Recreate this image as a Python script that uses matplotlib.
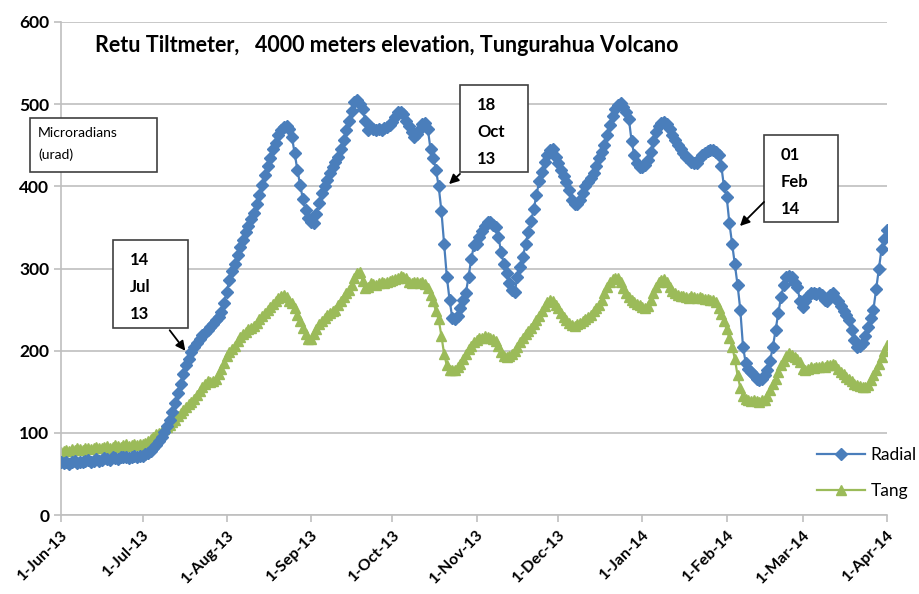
import matplotlib
matplotlib.use("Agg")
import matplotlib.pyplot as plt
import matplotlib.dates as mdates
from matplotlib.patches import Rectangle
import numpy as np
import pandas as pd

plt.rcParams['font.family'] = ['Lato', 'DejaVu Sans']

start_date = "2013-06-01"
end_date = "2014-04-01"

radial = [
    # June
    65, 63, 64, 62, 64, 66, 63, 65, 64, 66, 67, 65, 66, 68, 66, 67, 69, 68, 67, 70,
    69, 68, 70, 71, 70, 69, 71, 72, 71, 72,
    # July
    72, 74, 75, 78, 81, 85, 90, 95, 101, 108, 116, 125, 136, 148, 160, 172, 182, 190, 198, 204,
    209, 214, 219, 222, 225, 229, 233, 237, 241, 247, 258,
    # August
    272, 286, 297, 306, 316, 326, 335, 344, 352, 360, 368, 378, 390, 402, 414, 425, 435, 445, 453, 462,
    468, 472, 473, 470, 460, 440, 420, 402, 385, 371, 362,
    # September
    357, 355, 366, 380, 392, 400, 408, 416, 424, 430, 436, 445, 456, 468, 480, 492, 503, 505, 500, 494,
    480, 469, 472, 470, 468, 470, 468, 471, 472, 475,
    # October
    478, 484, 490, 491, 488, 480, 474, 466, 460, 464, 470, 476, 477, 470, 445, 435, 420, 400, 370, 330,
    290, 262, 240, 238, 242, 252, 262, 270, 290, 312, 328,
    # November
    330, 338, 346, 352, 357, 356, 353, 350, 338, 320, 305, 294, 282, 274, 272, 290, 302, 314, 330, 345,
    358, 372, 390, 406, 418, 430, 438, 444, 445, 436,
    # December
    428, 420, 412, 405, 395, 383, 378, 379, 383, 392, 400, 405, 410, 416, 425, 435, 442, 450, 462, 475,
    485, 494, 499, 501, 497, 490, 482, 455, 438, 428, 424,
    # January
    423, 426, 432, 442, 455, 466, 473, 477, 478, 476, 470, 463, 456, 450, 445, 440, 436, 433, 430, 428,
    429, 434, 438, 441, 443, 444, 444, 442, 438, 425, 400,
    # February
    387, 355, 330, 305, 280, 250, 205, 185, 178, 174, 170, 166, 164, 166, 170, 176, 188, 205, 225, 246,
    265, 280, 290, 291, 290, 282, 278, 260,
    # March
    253, 260, 266, 270, 270, 269, 270, 268, 262, 260, 268, 270, 264, 260, 254, 248, 243, 237, 225, 213,
    205, 206, 209, 218, 229, 240, 250, 275, 300, 324, 336,
    # 1 April
    347,
]

tang = [
    # June
    77, 78, 79, 78, 80, 79, 81, 80, 79, 81, 82, 80, 81, 83, 82, 81, 83, 84, 82, 83,
    85, 84, 83, 85, 86, 84, 85, 86, 85, 87,
    # July
    87, 88, 90, 92, 95, 98, 100, 102, 105, 107, 110, 113, 116, 120, 124, 128, 132, 135, 138, 141,
    146, 151, 156, 160, 163, 162, 163, 166, 172, 178, 185,
    # August
    193, 198, 202, 206, 212, 217, 220, 223, 226, 228, 230, 234, 238, 242, 246, 250, 253, 257, 261, 264,
    266, 268, 265, 260, 258, 252, 244, 236, 228, 220, 214,
    # September
    214, 220, 226, 232, 236, 240, 243, 246, 248, 250, 255, 260, 265, 270, 274, 280, 288, 294, 296, 285,
    276, 278, 282, 281, 280, 282, 283, 282, 284, 285,
    # October
    286, 287, 289, 291, 290, 288, 284, 282, 283, 284, 282, 283, 281, 276, 268, 260, 248, 238, 218, 196,
    182, 177, 176, 177, 180, 184, 190, 196, 202, 206, 210,
    # November
    213, 215, 216, 218, 217, 215, 214, 212, 206, 198, 194, 192, 193, 196, 200, 205, 210, 215, 220, 224,
    228, 232, 237, 242, 248, 254, 259, 262, 260, 256,
    # December
    252, 246, 241, 237, 234, 231, 230, 232, 234, 236, 238, 241, 244, 248, 252, 256, 262, 270, 277, 283,
    287, 289, 288, 283, 276, 270, 265, 262, 259, 257, 256,
    # January
    253, 252, 254, 262, 270, 278, 283, 286, 287, 284, 278, 273, 270, 268, 266, 266, 265, 264, 266, 265,
    264, 265, 264, 263, 263, 262, 262, 259, 252, 245, 236,
    # February
    226, 215, 205, 190, 170, 155, 145, 141, 140, 139, 140, 139, 138, 140, 140, 145, 152, 160, 166, 174,
    182, 188, 194, 197, 195, 192, 190, 186,
    # March
    178, 177, 178, 180, 179, 180, 180, 181, 180, 182, 183, 184, 183, 178, 174, 171, 168, 166, 163, 160,
    158, 157, 156, 156, 158, 164, 170, 176, 184, 192, 200,
    # 1 April
    207,
]

tick_labels = ["1-Jun-13", "1-Jul-13", "1-Aug-13", "1-Sep-13", "1-Oct-13", "1-Nov-13",
               "1-Dec-13", "1-Jan-14", "1-Feb-14", "1-Mar-14", "1-Apr-14"]
y_ticks = [0, 100, 200, 300, 400, 500, 600]

dates = pd.date_range(start_date, end_date, freq="D")
tick_dates = pd.date_range(start_date, end_date, freq="MS")

W, H = 919, 594
fig = plt.figure(figsize=(W / 100, H / 100), dpi=100)

def fx(x):
    return x / W

def fy(y):
    return 1 - y / H

ax = fig.add_axes([fx(61), fy(515), fx(887) - fx(61), fy(22) - fy(515)])

blue = "#4A7EBB"
green = "#9BBB59"

ax.plot(dates, radial, color=blue, lw=1.6, marker="D", ms=5.8, mec=blue, mfc=blue,
        label="Radial", zorder=3)
ax.plot(dates, tang, color=green, lw=1.6, marker="^", ms=7, mec=green, mfc=green,
        label="Tang", zorder=2)

ax.set_xlim(pd.Timestamp(start_date), pd.Timestamp(end_date))
ax.set_ylim(0, 600)
ax.set_yticks(y_ticks)
ax.set_yticklabels([str(v) for v in y_ticks], fontsize=12.5, fontweight="bold")
ax.set_xticks(tick_dates)
ax.set_xticklabels(tick_labels, rotation=45, ha="right", rotation_mode="anchor",
                   fontsize=11.5, fontweight="bold")

ax.grid(axis="y", color="#BFBFBF", lw=1.2)
ax.set_axisbelow(True)
for s in ["top", "right"]:
    ax.spines[s].set_visible(False)
for s in ["left", "bottom"]:
    ax.spines[s].set_color("#BFBFBF")
    ax.spines[s].set_linewidth(1.2)
ax.tick_params(axis="both", colors="#BFBFBF", length=5, width=1.2, labelcolor="black")
ax.tick_params(axis="x", pad=4)

leg = ax.legend(loc="lower right", bbox_to_anchor=(1.055, 0.0), frameon=False,
                fontsize=12.5, handlelength=2.8, labelspacing=1.15, handletextpad=0.3)

fig.text(fx(95), fy(45), "Retu Tiltmeter,   4000 meters elevation, Tungurahua Volcano",
         fontsize=15.5, fontweight="bold", va="center", ha="left")

def box(x0, y0, x1, y1):
    fig.patches.append(Rectangle((fx(x0), fy(y1)), fx(x1) - fx(x0), fy(y0) - fy(y1),
                                 transform=fig.transFigure, fill=True, fc="white",
                                 ec="#404040", lw=1.2, zorder=5))

# Microradians label box
box(30, 118, 157, 172)
fig.text(fx(38), fy(133), "Microradians", fontsize=10, va="center", ha="left", zorder=6)
fig.text(fx(38), fy(155), "(urad)", fontsize=10, va="center", ha="left", zorder=6)

def event_box(x0, y0, x1, y1, lines, tail, tip):
    box(x0, y0, x1, y1)
    for i, t in enumerate(lines):
        fig.text(fx(x0 + 17), fy(y0 + 20 + i * 27), t, fontsize=12, fontweight="bold",
                 va="center", ha="left", zorder=6)
    fig.add_artist(matplotlib.patches.FancyArrowPatch(
        (fx(tail[0]), fy(tail[1])), (fx(tip[0]), fy(tip[1])),
        transform=fig.transFigure, arrowstyle="-|>", mutation_scale=14,
        color="black", lw=1.3, zorder=6))

event_box(113, 240, 188, 328, ["14", "Jul", "13"], (168, 328), (187, 353))
event_box(460, 85, 528, 172, ["18", "Oct", "13"], (462, 172), (447, 186))
event_box(764, 135, 838, 222, ["01", "Feb", "14"], (766, 200), (738, 228))

fig.savefig("out.png", dpi=100)
